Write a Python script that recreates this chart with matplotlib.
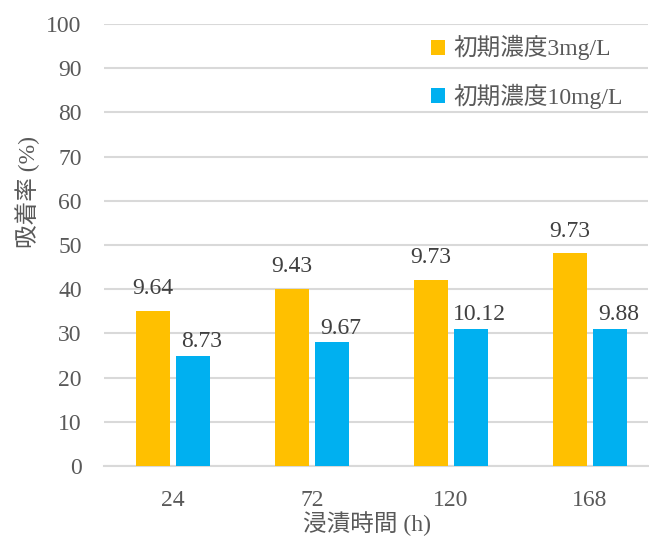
import matplotlib
matplotlib.use("Agg")
import matplotlib.pyplot as plt
from matplotlib.patches import Patch
import numpy as np

plt.rcParams['font.family'] = ['Liberation Serif', 'Noto Sans CJK JP']

# data
hours = ["24", "72", "120", "168"]
series_names = ["初期濃度3mg/L", "初期濃度10mg/L"]
rate_3mg = [35.1, 40.0, 42.1, 48.1]
rate_10mg = [25.0, 28.0, 31.1, 31.1]
notes_3mg = ["9.64", "9.43", "9.73", "9.73"]
notes_10mg = ["8.73", "9.67", "10.12", "9.88"]

c_yellow = "#FFC000"
c_blue = "#00B0F0"
text_c = "#595959"
grid_c = "#D9D9D9"
fs = 17

W, H = 649, 540
fig = plt.figure(figsize=(W / 100, H / 100), dpi=100)
ax = fig.add_axes([104 / W, (H - 466) / H, (648 - 104) / W, (466 - 24) / H])

x = np.arange(len(hours))
bw = 0.245
off = 0.144
b1 = ax.bar(x - off, rate_3mg, bw, color=c_yellow, zorder=3)
b2 = ax.bar(x + off, rate_10mg, bw, color=c_blue, zorder=3)

for rect, s in zip(b1, notes_3mg):
    ax.annotate(s, (rect.get_x() + rect.get_width() / 2, rect.get_height()),
                xytext=(0, 16), textcoords="offset points", ha="center", va="center",
                fontsize=fs, color="#404040")
for rect, s in zip(b2, notes_10mg):
    ax.annotate(s, (rect.get_x() + rect.get_width() / 2, rect.get_height()),
                xytext=(6, 10), textcoords="offset points", ha="center", va="center",
                fontsize=fs, color="#404040")

ax.set_xlim(-0.496, 3.417)
ax.set_ylim(0, 100)
ax.set_yticks(np.arange(0, 101, 10))
ax.set_xticks(x)
ax.set_xticklabels(hours)
ax.yaxis.grid(True, color=grid_c, linewidth=1.5, zorder=0)
ax.set_axisbelow(True)
for side in ["top", "right", "left"]:
    ax.spines[side].set_visible(False)
ax.spines["bottom"].set_color(grid_c)
ax.spines["bottom"].set_linewidth(1.5)
ax.tick_params(axis="both", length=0, labelsize=fs, labelcolor=text_c)
ax.tick_params(axis="y", pad=16)
ax.tick_params(axis="x", pad=17)

fig.text(28 / W, 1 - 192 / H, "吸着率 (%)", rotation=90, ha="center", va="center",
         fontsize=fs, color=text_c)
fig.text(367 / W, 1 - 524 / H, "浸漬時間 (h)", ha="center", va="center",
         fontsize=fs, color=text_c)

handles = [Patch(facecolor=c_yellow), Patch(facecolor=c_blue)]
leg = fig.legend(handles, series_names, loc="upper left",
                 bbox_to_anchor=(410 / W, 1 - 14 / H), frameon=False,
                 handlelength=0.6, handleheight=0.6, handletextpad=0.35,
                 labelspacing=1.0, fontsize=fs)
for t in leg.get_texts():
    t.set_color(text_c)

fig.savefig("out.png", dpi=100)
